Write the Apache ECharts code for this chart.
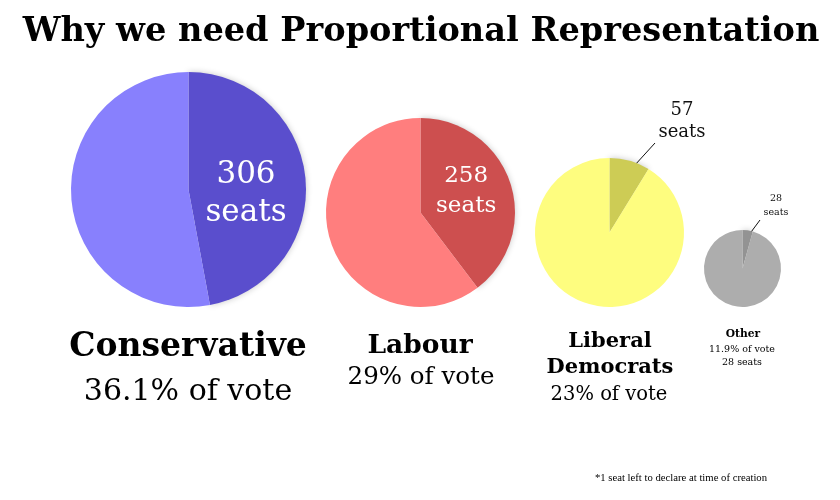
<!DOCTYPE html>
<html>
<head>
<meta charset="utf-8">
<script src="https://cdn.jsdelivr.net/npm/echarts@6/dist/echarts.min.js"></script>
<style>html,body{margin:0;padding:0;background:#fff;}#c{width:840px;height:500px;}</style>
</head>
<body>
<div id="c"></div>
<script>
const titleText = 'Why we need Proportional Representation';
const parties = ['Conservative', 'Labour', 'Liberal\nDemocrats', 'Other'];
const voteShare = [36.1, 29, 23, 11.9];
const seats = [306, 258, 57, 28];
const totalSeats = 650;
const footnote = '*1 seat left to declare at time of creation';

const lightColors = ['#8880fd', '#ff7e7e', '#fefd7f', '#adadad'];
const darkColors = ['#5a4ecd', '#cd4f4f', '#cdcc55', '#939393'];

// layout per pie (positions / sizes only)
const layout = [
  { center: [188.5, 189.5], radius: 117.5, labelPos: 'inside', font: 31, lh: 38, dx: -4, dy: 10 },
  { center: [420.5, 212.5], radius: 94.5, labelPos: 'inside', font: 23, lh: 30, dx: -2, dy: -5 },
  { center: [609.5, 232.5], radius: 74.5, labelPos: 'outside', font: 18, lh: 22, lx: 682, ly: 121, ex: -27, ey: 22 },
  { center: [742.5, 268.5], radius: 38.5, labelPos: 'outside', font: 9.5, lh: 14, lx: 776, ly: 206, ex: -16, ey: 14 }
];

const SERIF = '"DejaVu Serif", serif';

const series = seats.map((s, i) => {
  const L = layout[i];
  const inside = L.labelPos === 'inside';
  return {
    type: 'pie',
    center: L.center,
    radius: L.radius,
    startAngle: 90,
    clockwise: true,
    silent: true,
    animation: false,
    label: { position: L.labelPos },
    labelLine: { showAbove: true, length: 10, length2: 0, lineStyle: { color: '#111', width: 1 } },
    data: [
      {
        value: s,
        itemStyle: { color: darkColors[i], shadowBlur: 6, shadowColor: 'rgba(0,0,0,0.22)' },
        label: {
          show: true,
          position: L.labelPos,
          formatter: '{c}\nseats',
          color: inside ? '#ffffff' : '#111111',
          fontFamily: SERIF,
          fontSize: L.font,
          lineHeight: L.lh,
          align: 'center'
        },
        labelLine: { show: !inside, showAbove: true }
      },
      {
        value: totalSeats - s,
        itemStyle: { color: lightColors[i] },
        label: { show: false },
        labelLine: { show: false }
      }
    ],
    labelLayout: function (p) {
      if (p.dataIndex !== 0) return {};
      if (inside) return { dx: L.dx, dy: L.dy };
      // leader line: from inside the seats slice (at its mid angle) to the label's lower-left corner
      const mid = (s / totalSeats) * Math.PI; // half of slice angle, clockwise from 12 o'clock
      const r = L.radius * 0.8;
      const start = [L.center[0] + r * Math.sin(mid), L.center[1] - r * Math.cos(mid)];
      const end = [L.lx + L.ex, L.ly + L.ey];
      return { x: L.lx, y: L.ly, align: 'center', verticalAlign: 'middle', labelLinePoints: [start, end, end] };
    }
  };
});

const graphics = [];
function addText(txt, x, y, size, bold, family, fill) {
  graphics.push({
    type: 'text', x: x, y: y, silent: true,
    style: {
      text: txt,
      font: (bold ? 'bold ' : '') + size + 'px ' + (family || SERIF),
      textAlign: 'center', textVerticalAlign: 'middle',
      fill: fill || '#000'
    }
  });
}
addText(titleText, 421, 32, 33.6, true);
// Conservative
addText(parties[0], 188, 347, 33, true);
addText(voteShare[0] + '% of vote', 188, 392, 30, false);
// Labour
addText(parties[1], 420, 346, 26.5, true);
addText(voteShare[1] + '% of vote', 421, 378, 24.5, false);
// Liberal Democrats
const ldLines = parties[2].split('\n');
addText(ldLines[0], 610, 342, 21, true);
addText(ldLines[1], 610, 368, 21, true);
addText(voteShare[2] + '% of vote', 609, 395, 19.5, false);
// Other
addText(parties[3], 743, 334, 10.7, true);
addText(voteShare[3] + '% of vote', 742, 350, 9.5, false);
addText(seats[3] + ' seats', 742, 363, 9.5, false);
// footnote
addText(footnote, 681, 478, 10.7, false, '"Liberation Serif", serif');

const chart = echarts.init(document.getElementById('c'), null, { renderer: 'canvas' });
chart.setOption({
  backgroundColor: '#ffffff',
  animation: false,
  series: series,
  graphic: graphics
});
</script>
</body>
</html>
